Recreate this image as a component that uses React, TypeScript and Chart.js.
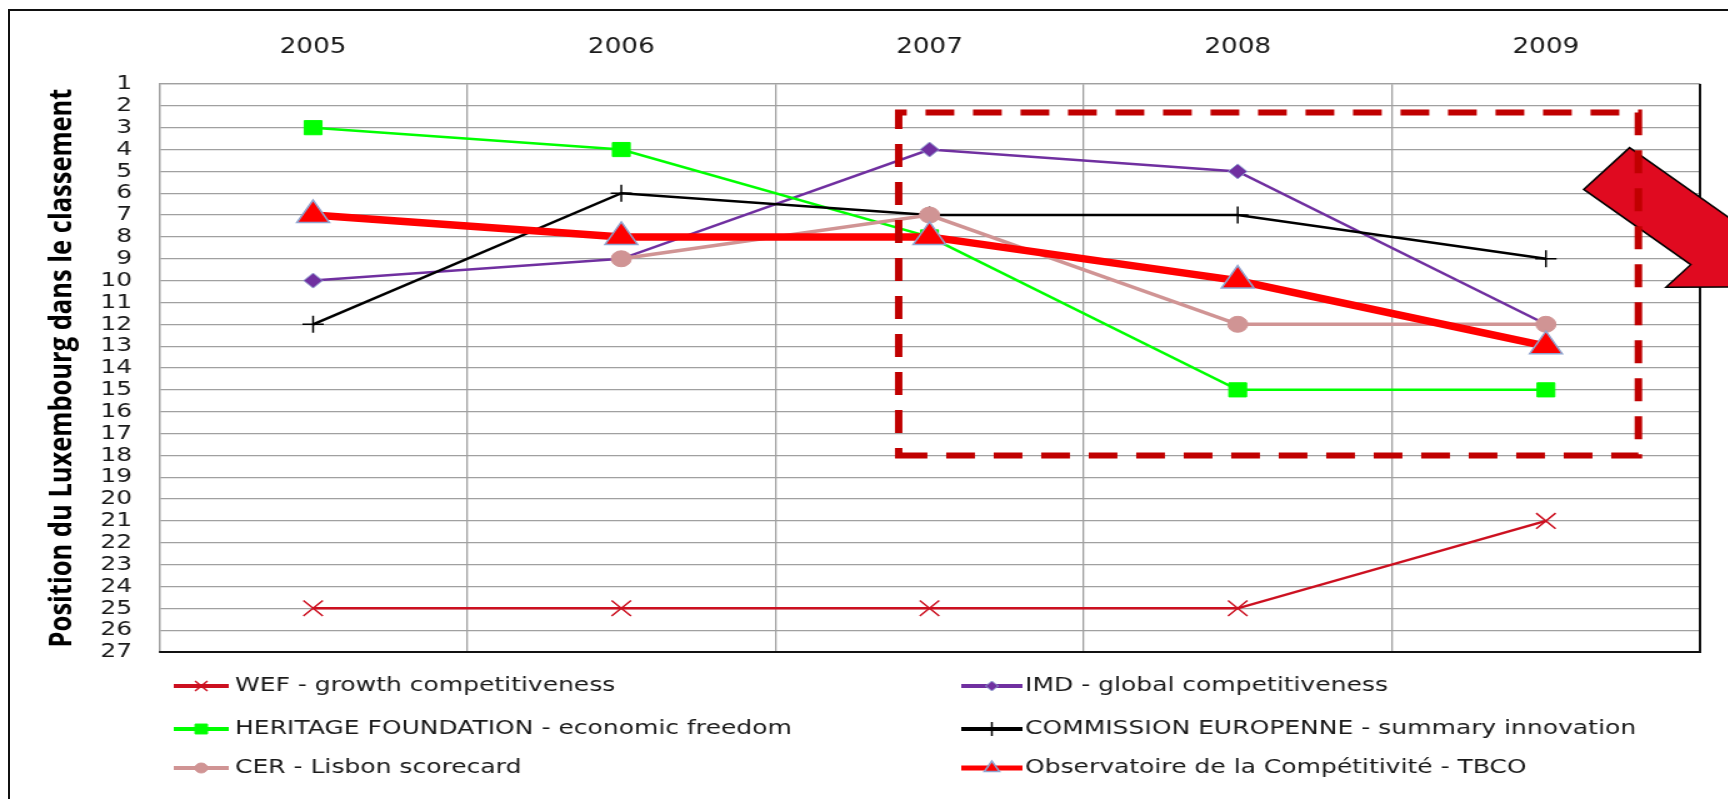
import React, { useEffect, useRef } from 'react';
import { Chart, registerables } from 'chart.js';
import { drawPoint } from 'chart.js/helpers';

Chart.register(...registerables);

// ---------- data ----------
const years = ['2005', '2006', '2007', '2008', '2009'];
const seriesNames = [
  'WEF - growth competitiveness',
  'IMD - global competitiveness',
  'HERITAGE FOUNDATION - economic freedom',
  'COMMISSION EUROPENNE - summary innovation',
  'CER - Lisbon scorecard',
  'Observatoire de la Compétitivité - TBCO',
];
const wef = [25, 25, 25, 25, 21];
const imd = [10, 9, 4, 5, 12];
const heritage = [3, 4, 8, 15, 15];
const commission = [12, 6, 7, 7, 9];
const cer = [null, 9, 7, 12, 12];
const tbco = [7, 8, 8, 10, 13];
const rankMin = 1;
const rankMax = 27;
const axisTitle = 'Position du Luxembourg dans le classement';

// ---------- layout (the picture is horizontally stretched) ----------
const SX = 1.25;
const OX = 10;
const OY = 11;
const LW = 1375;
const LH = 788;

// highlighted region (category index / rank)
const RECT = { x0: 1.9, x1: 4.3, y0: 2.3, y1: 18 };
const ARROW = { index: 4.197, value: 4.87, angleDeg: 41.3, shaftWidth: 55.6, shaftLength: 114, barb: 30, headLength: 65 };

const styles = [
  { color: '#CC1020', width: 2.5, style: 'crossRot', radius: 11, bg: '#CC1020', border: '#CC1020', bw: 1.5, lr: 7, lw: 4 },
  { color: '#7030A0', width: 2.5, style: 'rectRot', radius: 7.5, bg: '#7030A0', border: '#8FA0D0', bw: 1, lr: 5, lw: 4 },
  { color: '#00FF00', width: 2.5, style: 'rect', radius: 10, bg: '#00FF00', border: '#00FF00', bw: 1, lr: 7, lw: 4 },
  { color: '#000000', width: 2.5, style: 'cross', radius: 8.5, bg: '#000000', border: '#000000', bw: 1.5, lr: 7, lw: 4 },
  { color: '#D09494', width: 3.5, style: 'circle', radius: 8, bg: '#D09494', border: '#D09494', bw: 1, lr: 5, lw: 4 },
  { color: '#FF0000', width: 7.5, style: 'triangle', radius: 15, bg: '#FF0000', border: '#8EA3CF', bw: 1.5, lr: 7, lw: 5 },
];
const seriesValues = [wef, imd, heritage, commission, cer, tbco];

const legendCols = [
  { l0: 131, l1: 175, t: 180 },
  { l0: 761, l1: 810, t: 812 },
];
const legendRows = [675, 718, 757];

const decorPlugin = {
  id: 'decor',
  afterDraw(chart: any) {
    const ctx = chart.ctx as CanvasRenderingContext2D;
    const { left, right, top, bottom } = chart.chartArea;
    const xs = chart.scales.x;
    const ys = chart.scales.y;

    // dark right / bottom border of plot area
    ctx.save();
    ctx.strokeStyle = '#111';
    ctx.lineWidth = 2;
    ctx.beginPath();
    ctx.moveTo(right, top);
    ctx.lineTo(right, bottom);
    ctx.lineTo(left, bottom);
    ctx.stroke();
    ctx.restore();

    // block arrow
    const cx = xs.getPixelForValue(ARROW.index);
    const cy = ys.getPixelForValue(ARROW.value);
    const a = (ARROW.angleDeg * Math.PI) / 180;
    const d = { x: Math.cos(a), y: Math.sin(a) };
    const n = { x: Math.sin(a), y: -Math.cos(a) };
    const w = ARROW.shaftWidth / 2;
    const L = ARROW.shaftLength;
    const b = ARROW.barb;
    const H = ARROW.headLength;
    const P = (t: number, s: number) => [cx + d.x * t + n.x * s, cy + d.y * t + n.y * s];
    const pts = [P(0, w), P(L, w), P(L, w + b), P(L + H, 0), P(L, -w - b), P(L, -w), P(0, -w)];
    ctx.save();
    ctx.beginPath();
    pts.forEach((p, i) => (i ? ctx.lineTo(p[0], p[1]) : ctx.moveTo(p[0], p[1])));
    ctx.closePath();
    ctx.fillStyle = '#E00A20';
    ctx.fill();
    ctx.strokeStyle = '#000';
    ctx.lineWidth = 1.5;
    ctx.stroke();
    ctx.restore();

    // dashed highlight rectangle
    const rx0 = xs.getPixelForValue(RECT.x0);
    const rx1 = xs.getPixelForValue(RECT.x1);
    const ry0 = ys.getPixelForValue(RECT.y0);
    const ry1 = ys.getPixelForValue(RECT.y1);
    ctx.save();
    ctx.strokeStyle = '#C00000';
    ctx.lineWidth = 6;
    ctx.setLineDash([23, 15]);
    ctx.beginPath();
    ctx.moveTo(rx0, ry1);
    ctx.lineTo(rx1, ry1);
    ctx.lineTo(rx1, ry0);
    ctx.lineTo(rx0, ry0);
    ctx.closePath();
    ctx.stroke();
    ctx.restore();

    // legend (2 columns)
    ctx.save();
    chart.data.datasets.forEach((ds: any, i: number) => {
      const st = styles[i];
      const c = legendCols[i % 2];
      const y = legendRows[Math.floor(i / 2)];
      ctx.strokeStyle = st.color;
      ctx.lineWidth = st.lw;
      ctx.setLineDash([]);
      ctx.beginPath();
      ctx.moveTo(c.l0, y);
      ctx.lineTo(c.l1, y);
      ctx.stroke();
      ctx.fillStyle = st.bg;
      ctx.strokeStyle = st.border;
      ctx.lineWidth = st.bw;
      drawPoint(ctx, { pointStyle: st.style as any, radius: st.lr, rotation: 0, borderWidth: st.bw }, (c.l0 + c.l1) / 2, y);
      ctx.fillStyle = '#1a1a1a';
      ctx.font = '20px "DejaVu Sans"';
      ctx.textBaseline = 'middle';
      ctx.textAlign = 'left';
      ctx.fillText(ds.label, c.t, y);
    });
    ctx.restore();
  },
};

export default function App() {
  const ref = useRef<HTMLCanvasElement | null>(null);

  useEffect(() => {
    if (!ref.current) return;
    const datasets = seriesValues.map((vals, i) => {
      const st = styles[i];
      return {
        label: seriesNames[i],
        data: vals,
        borderColor: st.color,
        backgroundColor: st.bg,
        borderWidth: st.width,
        pointStyle: st.style,
        pointRadius: st.radius,
        pointBackgroundColor: st.bg,
        pointBorderColor: st.border,
        pointBorderWidth: st.bw,
        tension: 0,
        fill: false,
        order: seriesValues.length - i,
      };
    });
    const chart = new Chart(ref.current, {
      type: 'line',
      data: { labels: years, datasets: datasets as any },
      options: {
        responsive: true,
        maintainAspectRatio: false,
        animation: false,
        layout: { padding: { left: 0, top: 0, right: 23, bottom: 147 } },
        plugins: { legend: { display: false }, tooltip: { enabled: false } },
        scales: {
          x: {
            type: 'category',
            position: 'top',
            offset: true,
            grid: { offset: true, color: '#A0A0A0', lineWidth: 1.3, drawTicks: false },
            border: { color: '#A0A0A0', width: 1.3 },
            ticks: { font: { family: 'DejaVu Sans', size: 21 }, color: '#1a1a1a', padding: 24.2, maxRotation: 0, autoSkip: false },
            afterFit: (s: any) => { s.height = 73; },
          },
          y: {
            type: 'linear',
            reverse: true,
            min: rankMin,
            max: rankMax,
            grid: { color: '#A0A0A0', lineWidth: 1.3, drawTicks: false },
            border: { color: '#A0A0A0', width: 1.3 },
            ticks: { stepSize: 1, autoSkip: false, font: { family: 'DejaVu Sans', size: 20 }, color: '#1a1a1a', padding: 21.6 },
            title: {
              display: true,
              text: axisTitle,
              color: '#000',
              font: { family: 'Open Sans', weight: 'bold', size: 25.5 },
              padding: { top: 26.5, bottom: 0 },
            },
            afterFit: (s: any) => { s.width = 119.2; },
          },
        },
      } as any,
      plugins: [decorPlugin],
    });
    return () => chart.destroy();
  }, []);

  return (
    <div style={{ position: 'fixed', left: 0, top: 0, width: 1728, height: 799, overflow: 'hidden', background: '#fff' }}>
      <div style={{ position: 'absolute', left: 8, top: 9, width: 1800, height: 900, borderTop: '2px solid #111', borderLeft: '2px solid #111' }} />
      <div style={{ position: 'absolute', left: OX, top: OY, width: LW, height: LH, transform: `scaleX(${SX})`, transformOrigin: '0 0' }}>
        <canvas ref={ref} />
      </div>
    </div>
  );
}
